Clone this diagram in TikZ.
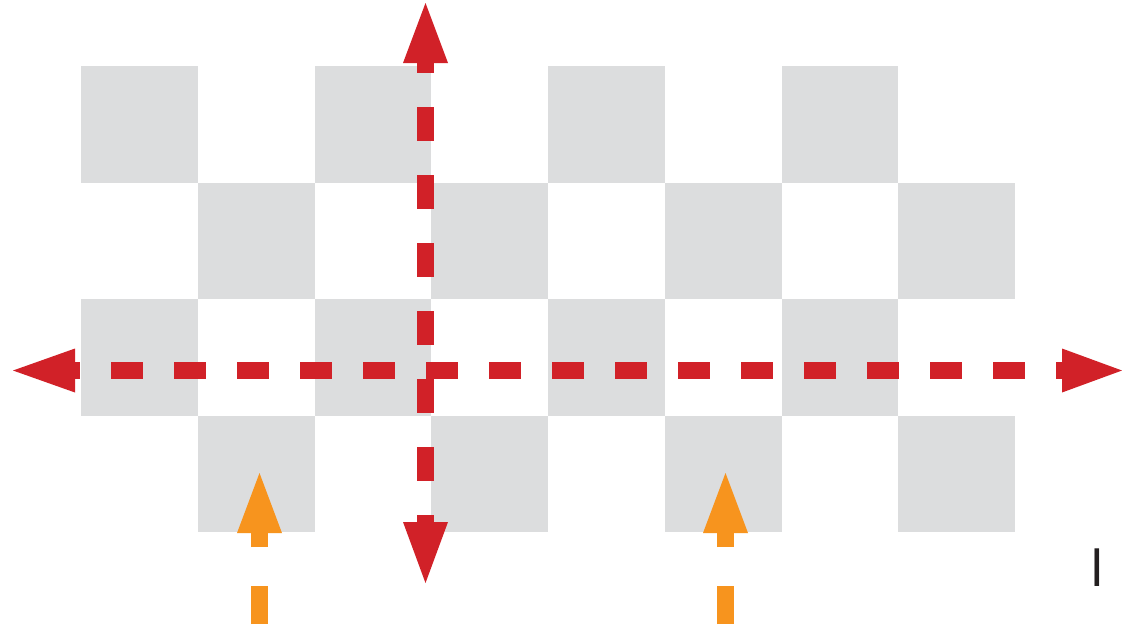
\documentclass[tikz,border=0pt]{standalone}
\usepackage{fontspec}
\newfontfamily\labelfont{Liberation Sans}
\definecolor{sq}{RGB}{220,221,222}
\definecolor{arrred}{RGB}{209,33,40}
\definecolor{arrorange}{RGB}{247,148,30}
\definecolor{marktext}{RGB}{35,31,32}
\begin{document}
\begin{tikzpicture}[x=1pt,y=-1pt,
  cell/.style={fill=sq},
  redline/.style={draw=arrred,line width=17pt},
  orangeline/.style={draw=arrorange,line width=17pt,dash pattern=on 38pt off 39pt},
  redhead/.style={fill=arrred},
  orangehead/.style={fill=arrorange}]
\useasboundingbox (0,0) rectangle (1122,630);
\fill[white] (0,0) rectangle (1122,630);
% checkerboard
\foreach \r in {0,...,3}{
  \foreach \c in {0,...,7}{
    \pgfmathtruncatemacro{\cellparity}{mod(\r+\c,2)}
    \ifnum\cellparity=0
      \fill[cell] ({81+116.75*\c},{66+116.5*\r}) rectangle +(116.75,116.5);
    \fi
  }
}
% orange arrows
\coordinate (o1B) at (259.5,624);
\coordinate (o1H) at (259.5,533);
\coordinate (o1T) at (259.5,473);
\coordinate (o2B) at (725.5,624);
\coordinate (o2H) at (725.5,533);
\coordinate (o2T) at (725.5,473);
\draw[orangeline] (o1B) -- (o1H);
\fill[orangehead] (o1T) -- ([xshift=-22.5pt]o1H) -- ([xshift=22.5pt]o1H) -- cycle;
\draw[orangeline] (o2B) -- (o2H);
\fill[orangehead] (o2T) -- ([xshift=-22.5pt]o2H) -- ([xshift=22.5pt]o2H) -- cycle;
% red horizontal double arrow
\coordinate (hL) at (75,370.5);
\coordinate (hR) at (1062,370.5);
\coordinate (hLtip) at (13,370.5);
\coordinate (hRtip) at (1122,370.5);
\draw[redline, dash pattern=on 32pt off 31pt, dash phase=27pt] (hL) -- (hR);
\fill[redhead] (hLtip) -- ([yshift=22pt]hL) -- ([yshift=-22pt]hL) -- cycle;
\fill[redhead] (hRtip) -- ([yshift=22pt]hR) -- ([yshift=-22pt]hR) -- cycle;
% red vertical double arrow
\coordinate (vT) at (425.5,63);
\coordinate (vB) at (425.5,522);
\coordinate (vTtip) at (425.5,3);
\coordinate (vBtip) at (425.5,583);
\draw[redline, dash pattern=on 34pt off 34pt, dash phase=24pt] (vT) -- (vB);
\fill[redhead] (vTtip) -- ([xshift=-22.5pt]vT) -- ([xshift=22.5pt]vT) -- cycle;
\fill[redhead] (vBtip) -- ([xshift=-22.5pt]vB) -- ([xshift=22.5pt]vB) -- cycle;
% small mark
\node[font=\labelfont\fontsize{52}{52}\selectfont, text=marktext, inner sep=0pt, anchor=base] (mark) at (1097.5,586) {l};
\end{tikzpicture}
\end{document}
